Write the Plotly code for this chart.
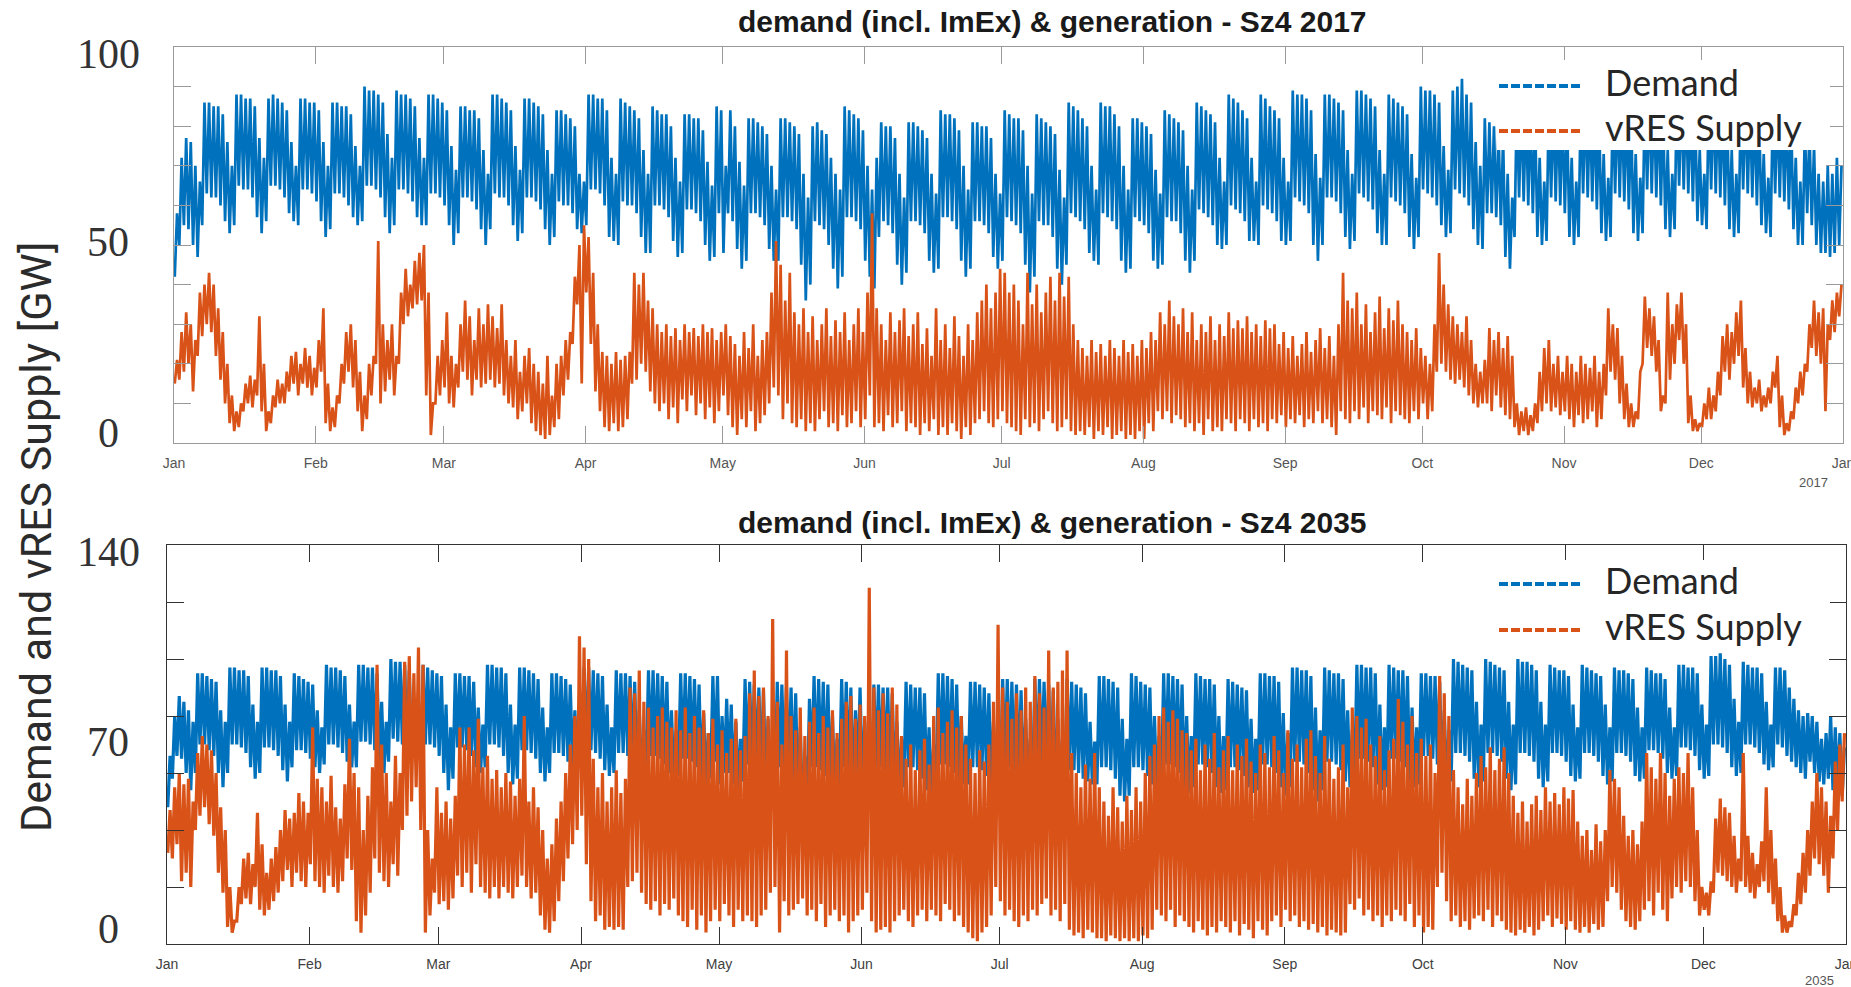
import pandas as pd
import plotly.graph_objects as go

W, H = 1851, 987

MONTHS = ["Jan", "Feb", "Mar", "Apr", "May", "Jun", "Jul", "Aug", "Sep", "Oct", "Nov", "Dec", "Jan"]
TITLE_2017 = "demand (incl. ImEx) & generation - Sz4 2017"
TITLE_2035 = "demand (incl. ImEx) & generation - Sz4 2035"
Y17_TICKS = list(range(0, 101, 10))
Y35_TICKS = list(range(0, 141, 20))
Y17_LABELS = ["100", "50", "0"]
Y35_LABELS = ["140", "70", "0"]
SERIES_NAMES = ["Demand", "vRES Supply"]

# ---- 2017: daily maxima / minima (GW) ----
D17_MAX = [
    58, 72, 77, 76, 70, 66,
    86, 86, 85, 85, 83, 76, 70,
    88, 88, 87, 87, 85, 77, 72,
    87, 88, 87, 86, 84, 76, 70,
    87, 87, 86, 86, 84, 76, 70,
    86, 86, 85, 85, 83, 75, 70,
    90, 89, 89, 88, 86, 78, 72,
    89, 88, 88, 87, 85, 77, 72,
    88, 88, 87, 86, 84, 75, 69,
    85, 85, 84, 84, 82, 74, 68,
    88, 88, 87, 86, 84, 75, 69,
    87, 87, 86, 85, 83, 74, 68,
    84, 84, 83, 82, 80, 68, 66,
    88, 88, 87, 87, 84, 72, 68,
    87, 86, 85, 84, 82, 74, 68,
    85, 84, 83, 83, 80, 72, 66,
    83, 83, 82, 82, 79, 71, 65,
    85, 84, 70, 84, 80, 71, 65,
    82, 82, 81, 80, 78, 70, 64,
    82, 82, 81, 80, 78, 68, 62,
    80, 81, 79, 78, 72, 68, 64,
    85, 84, 83, 82, 79, 70, 64,
    72, 81, 80, 80, 77, 68, 62,
    81, 81, 80, 79, 77, 68, 63,
    84, 83, 83, 82, 79, 70, 64,
    81, 81, 80, 80, 77, 68, 63,
    84, 83, 82, 82, 79, 70, 63,
    83, 82, 81, 80, 78, 69, 62,
    86, 85, 84, 82, 80, 70, 64,
    86, 85, 85, 83, 80, 70, 64,
    82, 82, 81, 80, 78, 69, 63,
    84, 83, 82, 81, 79, 70, 64,
    86, 85, 84, 83, 81, 72, 66,
    88, 87, 86, 84, 82, 72, 66,
    88, 87, 85, 84, 82, 72, 66,
    89, 88, 88, 87, 84, 73, 67,
    88, 88, 87, 86, 84, 74, 68,
    89, 89, 88, 87, 85, 74, 68,
    88, 87, 86, 85, 83, 73, 67,
    90, 89, 89, 88, 86, 75, 69,
    89, 90, 92, 88, 86, 76, 70,
    82, 81, 80, 79, 77, 68, 62,
    86, 86, 85, 84, 82, 72, 66,
    86, 86, 85, 84, 82, 72, 66,
    87, 87, 86, 85, 83, 73, 67,
    87, 87, 86, 85, 83, 73, 67,
    88, 88, 87, 86, 84, 74, 68,
    88, 88, 87, 86, 84, 74, 68,
    88, 88, 87, 86, 84, 74, 68,
    87, 87, 86, 85, 83, 73, 67,
    86, 86, 85, 84, 82, 72, 66,
    80, 79, 75, 68, 66, 70, 68,
    72, 70,
]
D17_MIN = [
    42, 50, 55, 54, 50, 47,
    55, 63, 62, 62, 60, 56, 53,
    55, 65, 64, 64, 62, 57, 53,
    56, 65, 65, 64, 62, 58, 56,
    55, 64, 64, 63, 61, 56, 52,
    54, 63, 63, 62, 60, 57, 55,
    56, 65, 65, 64, 62, 57, 53,
    55, 64, 64, 63, 61, 57, 55,
    55, 63, 63, 62, 60, 55, 50,
    53, 62, 62, 61, 59, 54, 50,
    54, 63, 62, 62, 60, 55, 51,
    53, 62, 62, 61, 59, 54, 50,
    52, 61, 60, 60, 58, 54, 53,
    55, 64, 64, 63, 60, 52, 51,
    50, 61, 60, 60, 58, 52, 48,
    48, 60, 60, 59, 57, 51, 47,
    48, 59, 59, 58, 56, 50, 46,
    47, 58, 48, 58, 56, 49, 44,
    46, 58, 58, 57, 55, 49, 46,
    46, 57, 57, 56, 54, 45, 36,
    40, 56, 55, 54, 50, 44, 39,
    42, 57, 57, 56, 54, 46, 42,
    39, 52, 56, 55, 53, 45, 40,
    43, 56, 56, 55, 53, 46, 43,
    44, 57, 57, 56, 54, 46, 42,
    44, 56, 56, 55, 53, 47, 44,
    46, 57, 56, 55, 53, 45, 38,
    42, 56, 55, 55, 52, 44, 40,
    45, 58, 57, 56, 54, 48, 46,
    45, 58, 57, 56, 54, 46, 43,
    44, 57, 56, 55, 53, 46, 44,
    45, 57, 56, 56, 53, 46, 43,
    46, 59, 58, 57, 55, 50, 49,
    50, 60, 59, 58, 56, 51, 51,
    50, 60, 59, 58, 56, 51, 50,
    51, 62, 61, 60, 58, 50, 46,
    50, 62, 62, 61, 58, 52, 49,
    51, 63, 62, 61, 59, 53, 50,
    50, 62, 61, 60, 58, 52, 49,
    52, 64, 63, 62, 60, 55, 52,
    53, 64, 63, 62, 60, 54, 50,
    49, 58, 58, 57, 55, 47, 44,
    52, 62, 61, 60, 58, 52, 50,
    51, 62, 61, 60, 58, 52, 50,
    52, 63, 62, 61, 59, 53, 51,
    52, 63, 62, 61, 59, 53, 51,
    53, 64, 63, 62, 60, 54, 52,
    54, 65, 64, 63, 61, 56, 55,
    54, 64, 63, 62, 60, 54, 52,
    53, 64, 63, 62, 60, 55, 53,
    52, 63, 62, 61, 59, 54, 50,
    50, 58, 55, 50, 48, 48, 47,
    48, 50,
]
S17_MAX = [
    21, 28, 33, 30, 26, 38, 40, 43, 40, 34,
    28, 20, 12, 8, 10, 15, 17, 16, 32, 20,
    8, 12, 16, 15, 18, 22, 23, 20, 24, 22,
    19, 26, 34, 15, 9, 12, 20, 28, 30, 26,
    18, 12, 20, 22, 51, 30, 26, 30, 22, 38,
    44, 40, 46, 48, 50, 38, 10, 22, 26, 33,
    22, 20, 30, 36, 32, 26, 34, 30, 35, 32,
    29, 35, 26, 22, 26, 18, 22, 24, 20, 18,
    15, 22, 12, 20, 22, 26, 28, 42, 50, 55,
    52, 43, 30, 23, 22, 20, 23, 21, 22, 23,
    43, 40, 43, 36, 34, 30, 28, 30, 27, 29,
    26, 30, 28, 29, 27, 30, 28, 29, 26, 28,
    30, 27, 25, 22, 28, 24, 30, 22, 26, 28,
    38, 51, 45, 36, 43, 33, 30, 34, 28, 32,
    26, 30, 34, 27, 31, 28, 33, 26, 30, 34,
    28, 38, 58, 34, 30, 26, 33, 28, 31, 34,
    27, 30, 33, 25, 29, 22, 34, 26, 30, 24,
    32, 27, 22, 30, 26, 33, 36, 40, 34, 38,
    44, 43, 38, 40, 36, 30, 43, 35, 40, 33,
    38, 42, 36, 43, 37, 42, 30, 26, 24, 22,
    26, 23, 25, 22, 26, 24, 22, 26, 23, 25,
    22, 26, 24, 28, 26, 33, 30, 36, 32, 30,
    34, 28, 33, 26, 30, 28, 32, 26, 30, 27,
    33, 29, 31, 29, 32, 28, 30, 27, 31, 29,
    30, 25, 28, 24, 27, 22, 25, 28, 23, 26,
    29, 24, 27, 22, 30, 43, 36, 34, 38, 30,
    35, 28, 33, 37, 29, 34, 31, 36, 30, 28,
    26, 29, 24, 22, 20, 30, 48, 40, 35, 32,
    30, 28, 32, 26, 20, 18, 21, 29, 26, 28,
    24, 27, 22, 10, 8, 9, 7, 10, 18, 24,
    26, 20, 22, 18, 22, 20, 18, 22, 20, 19,
    22, 18, 20, 34, 30, 29, 22, 15, 10, 8,
    18, 37, 34, 32, 26, 12, 38, 30, 35, 38,
    30, 12, 6, 5, 10, 14, 12, 18, 27, 30,
    28, 33, 36, 24, 18, 14, 16, 12, 14, 18,
    22, 12, 5, 8, 14, 18, 20, 30, 36, 33,
    34, 30, 36, 38, 40,
]
S17_MIN = [
    15, 16, 18, 20, 13, 22, 27, 30, 28, 22,
    16, 10, 5, 3, 4, 8, 10, 9, 12, 8,
    3, 5, 9, 10, 10, 13, 15, 12, 15, 14,
    12, 14, 18, 5, 3, 4, 10, 15, 18, 14,
    8, 3, 6, 12, 20, 10, 13, 16, 12, 20,
    30, 32, 34, 35, 36, 12, 2, 10, 12, 14,
    10, 9, 14, 18, 16, 12, 16, 14, 15, 16,
    14, 15, 12, 10, 9, 6, 8, 10, 5, 3,
    2, 1, 2, 4, 6, 12, 16, 25, 35, 15,
    38, 25, 13, 8, 4, 3, 5, 3, 4, 6,
    15, 16, 20, 18, 13, 10, 8, 10, 6, 9,
    5, 11, 8, 12, 7, 10, 6, 9, 5, 8,
    12, 7, 4, 2, 6, 4, 8, 3, 5, 7,
    10, 14, 12, 6, 10, 5, 4, 6, 3, 5,
    3, 6, 8, 4, 5, 3, 7, 4, 5, 8,
    4, 6, 12, 4, 5, 3, 7, 4, 5, 8,
    3, 5, 4, 2, 5, 3, 6, 2, 4, 2,
    5, 3, 1, 4, 2, 5, 6, 8, 5, 4,
    6, 8, 5, 4, 3, 2, 6, 4, 5, 3,
    6, 8, 5, 3, 4, 6, 3, 2, 3, 2,
    4, 1, 3, 2, 4, 1, 2, 3, 1, 2,
    1, 3, 1, 5, 3, 8, 6, 8, 5, 7,
    6, 4, 5, 3, 5, 2, 6, 3, 4, 3,
    6, 5, 3, 6, 5, 3, 6, 4, 5, 3,
    6, 5, 7, 4, 6, 5, 7, 4, 6, 5,
    8, 5, 6, 4, 2, 8, 6, 5, 8, 6,
    9, 5, 8, 7, 6, 9, 5, 8, 7, 6,
    5, 8, 6, 10, 6, 8, 18, 20, 18, 16,
    15, 16, 14, 12, 10, 9, 10, 10, 8, 12,
    9, 7, 6, 4, 2, 3, 2, 3, 5, 8,
    10, 8, 9, 7, 8, 6, 4, 7, 5, 6,
    8, 4, 6, 12, 18, 16, 10, 6, 4, 4,
    6, 20, 24, 22, 18, 8, 10, 16, 20, 26,
    20, 5, 3, 3, 4, 6, 6, 8, 12, 18,
    16, 20, 22, 14, 10, 9, 10, 8, 9, 10,
    14, 4, 2, 3, 6, 10, 12, 18, 24, 22,
    20, 8, 26, 28, 32,
]

# ---- 2035: daily maxima / minima (GW) ----
D35_MAX = [
    66, 80, 87, 85, 82, 78,
    95, 95, 94, 93, 92, 82, 78,
    97, 97, 96, 96, 94, 84, 78,
    97, 97, 96, 96, 94, 84, 78,
    95, 94, 93, 92, 91, 82, 76,
    98, 97, 97, 96, 94, 84, 78,
    98, 98, 97, 97, 95, 85, 78,
    100, 99, 99, 98, 96, 86, 80,
    98, 97, 96, 95, 94, 84, 76,
    95, 95, 94, 94, 92, 83, 77,
    98, 98, 97, 97, 95, 84, 77,
    97, 97, 96, 95, 93, 83, 76,
    95, 95, 94, 93, 91, 82, 76,
    97, 97, 96, 95, 94, 84, 76,
    96, 95, 95, 94, 92, 82, 75,
    96, 96, 95, 94, 92, 82, 75,
    95, 95, 94, 93, 91, 81, 74,
    94, 94, 80, 86, 84, 78, 72,
    93, 92, 91, 90, 89, 79, 72,
    92, 91, 90, 90, 88, 76, 66,
    86, 94, 93, 92, 91, 80, 72,
    93, 92, 90, 82, 90, 78, 72,
    91, 91, 90, 90, 88, 78, 72,
    92, 91, 90, 90, 88, 76, 70,
    95, 95, 94, 93, 91, 80, 73,
    92, 92, 91, 90, 88, 78, 72,
    93, 93, 92, 91, 89, 79, 72,
    93, 93, 92, 91, 89, 79, 72,
    93, 92, 91, 90, 88, 78, 71,
    94, 94, 93, 92, 90, 79, 72,
    95, 94, 92, 91, 90, 80, 73,
    95, 95, 94, 93, 91, 80, 73,
    95, 94, 93, 93, 91, 80, 73,
    93, 92, 91, 90, 89, 79, 72,
    95, 95, 94, 94, 92, 81, 74,
    97, 97, 96, 96, 94, 83, 75,
    97, 96, 95, 95, 93, 82, 75,
    98, 98, 97, 97, 95, 84, 76,
    98, 97, 96, 96, 94, 83, 76,
    95, 95, 94, 94, 92, 82, 75,
    100, 99, 98, 97, 96, 85, 77,
    100, 99, 98, 97, 96, 85, 77,
    100, 99, 99, 98, 96, 85, 77,
    98, 97, 96, 96, 94, 84, 76,
    98, 97, 96, 95, 94, 84, 76,
    97, 96, 96, 95, 93, 83, 76,
    97, 96, 95, 95, 93, 83, 76,
    98, 98, 97, 97, 95, 84, 77,
    101, 101, 102, 100, 98, 86, 78,
    99, 98, 97, 97, 95, 85, 77,
    97, 97, 96, 90, 86, 82, 80,
    81, 80, 78, 72, 74, 80, 76,
    74, 69,
]
D35_MIN = [
    48, 58, 66, 65, 60, 54,
    60, 70, 70, 68, 66, 60, 55,
    60, 70, 70, 69, 67, 62, 58,
    60, 69, 69, 68, 66, 61, 57,
    62, 68, 68, 67, 65, 62, 60,
    63, 70, 70, 69, 67, 64, 62,
    62, 71, 71, 70, 68, 63, 60,
    64, 72, 71, 70, 68, 66, 65,
    62, 70, 70, 69, 66, 60, 54,
    58, 69, 69, 68, 66, 62, 60,
    62, 70, 70, 69, 66, 60, 56,
    58, 68, 68, 67, 65, 60, 57,
    60, 67, 67, 66, 64, 62, 60,
    62, 68, 68, 67, 65, 61, 59,
    60, 67, 67, 66, 64, 60, 58,
    60, 66, 66, 65, 63, 60, 58,
    59, 65, 65, 64, 62, 58, 56,
    58, 64, 56, 60, 60, 56, 54,
    57, 63, 63, 62, 60, 56, 54,
    55, 62, 62, 61, 58, 50, 46,
    48, 62, 62, 61, 59, 56, 55,
    56, 62, 60, 52, 60, 55, 54,
    55, 62, 62, 61, 59, 55, 53,
    55, 62, 62, 61, 58, 54, 52,
    55, 63, 63, 62, 60, 57, 56,
    56, 62, 62, 61, 59, 56, 55,
    56, 62, 62, 61, 59, 58, 57,
    57, 62, 62, 61, 59, 56, 55,
    55, 61, 61, 60, 58, 57, 56,
    56, 62, 62, 61, 58, 52, 50,
    52, 62, 62, 61, 59, 56, 54,
    55, 63, 63, 62, 60, 55, 53,
    55, 63, 63, 62, 60, 55, 53,
    54, 62, 62, 61, 59, 55, 53,
    54, 63, 63, 62, 60, 55, 52,
    55, 64, 64, 63, 60, 54, 50,
    54, 64, 64, 63, 61, 57, 55,
    56, 65, 65, 64, 62, 56, 54,
    55, 65, 65, 64, 62, 57, 55,
    56, 66, 66, 65, 63, 58, 55,
    57, 67, 67, 66, 64, 58, 55,
    57, 67, 67, 66, 64, 58, 54,
    56, 67, 67, 66, 64, 58, 55,
    57, 67, 67, 66, 64, 59, 57,
    58, 67, 67, 66, 64, 59, 56,
    57, 67, 67, 66, 64, 59, 57,
    58, 68, 68, 67, 65, 60, 58,
    59, 69, 69, 68, 66, 61, 58,
    59, 70, 70, 69, 67, 62, 59,
    60, 70, 70, 69, 67, 63, 61,
    62, 70, 69, 66, 64, 62, 60,
    58, 64, 60, 57, 56, 58, 54,
    55, 52,
]
S35_MAX = [
    47, 55, 60, 56, 58, 50, 67, 73, 70, 68,
    60, 48, 40, 20, 8, 20, 30, 32, 28, 46,
    35, 25, 30, 34, 40, 47, 44, 46, 53, 50,
    46, 76, 58, 55, 50, 59, 48, 44, 56, 72,
    60, 55, 40, 52, 62, 98, 70, 60, 50, 66,
    60, 99, 101, 95, 104, 98, 40, 30, 55, 46,
    50, 44, 52, 76, 70, 76, 68, 79, 62, 66,
    58, 61, 55, 60, 57, 52, 58, 80, 50, 55,
    48, 40, 30, 35, 44, 50, 60, 70, 80, 108,
    104, 100, 65, 55, 60, 50, 55, 61, 53, 58,
    90, 88, 96, 85, 83, 76, 80, 83, 78, 76,
    82, 75, 83, 74, 80, 76, 82, 74, 79, 70,
    75, 67, 72, 79, 68, 73, 88, 96, 87, 90,
    80, 114, 85, 70, 103, 80, 75, 83, 73, 78,
    83, 74, 80, 76, 82, 74, 79, 85, 87, 79,
    84, 80, 125, 90, 82, 88, 81, 90, 84, 73,
    65, 70, 61, 68, 72, 63, 80, 83, 74, 78,
    82, 76, 80, 70, 65, 60, 68, 64, 70, 85,
    112, 90, 85, 79, 88, 82, 90, 85, 94, 88,
    83, 103, 90, 92, 96, 103, 67, 60, 55, 63,
    58, 67, 55, 50, 45, 55, 48, 43, 52, 47,
    55, 50, 60, 66, 70, 80, 83, 78, 82, 79,
    75, 74, 68, 72, 61, 70, 65, 74, 62, 68,
    73, 61, 70, 66, 72, 64, 60, 70, 67, 62,
    73, 68, 60, 75, 65, 70, 62, 72, 75, 66,
    60, 73, 65, 58, 62, 70, 55, 83, 80, 76,
    79, 70, 66, 73, 61, 68, 72, 86, 78, 70,
    80, 67, 72, 66, 70, 60, 94, 88, 80, 61,
    55, 49, 58, 52, 60, 66, 62, 69, 61, 65,
    69, 60, 52, 46, 50, 43, 49, 52, 47, 55,
    50, 53, 49, 55, 51, 54, 43, 38, 40, 33,
    42, 36, 40, 61, 58, 55, 45, 38, 40, 35,
    43, 67, 62, 58, 67, 60, 52, 58, 62, 60,
    67, 55, 40, 20, 18, 22, 44, 51, 48, 46,
    38, 30, 67, 38, 32, 28, 36, 55, 40, 30,
    20, 10, 8, 14, 25, 32, 40, 50, 60, 55,
    50, 45, 64, 70, 74,
]
S35_MIN = [
    32, 30, 35, 22, 25, 20, 40, 45, 48, 42,
    38, 25, 18, 6, 4, 8, 14, 16, 14, 20,
    12, 10, 12, 15, 18, 22, 26, 20, 25, 22,
    20, 28, 22, 20, 18, 24, 20, 18, 22, 30,
    26, 8, 4, 10, 18, 30, 25, 22, 20, 28,
    24, 40, 45, 50, 55, 40, 4, 10, 18, 14,
    15, 12, 16, 24, 20, 25, 18, 28, 20, 18,
    16, 20, 16, 20, 18, 16, 20, 24, 20, 16,
    18, 10, 5, 4, 8, 15, 22, 30, 35, 40,
    45, 28, 15, 8, 10, 5, 6, 5, 6, 5,
    20, 22, 25, 18, 14, 12, 15, 10, 14, 12,
    16, 10, 8, 6, 12, 5, 10, 4, 8, 12,
    8, 14, 10, 6, 12, 8, 10, 8, 6, 10,
    12, 18, 20, 4, 15, 10, 12, 14, 16, 10,
    12, 8, 14, 6, 10, 12, 8, 10, 4, 8,
    10, 12, 18, 8, 4, 5, 6, 4, 8, 10,
    12, 8, 6, 10, 12, 8, 12, 10, 8, 14,
    12, 8, 10, 6, 4, 2, 1, 4, 6, 10,
    20, 15, 10, 12, 8, 6, 10, 8, 12, 10,
    14, 16, 10, 12, 8, 14, 5, 3, 4, 2,
    5, 4, 2, 2, 1, 3, 2, 1, 2, 1,
    2, 1, 3, 2, 5, 12, 10, 8, 12, 6,
    10, 8, 6, 4, 8, 5, 3, 6, 4, 8,
    6, 4, 8, 3, 7, 5, 2, 8, 5, 3,
    8, 10, 6, 12, 8, 10, 6, 8, 5, 7,
    4, 6, 3, 5, 4, 3, 4, 14, 12, 16,
    10, 12, 8, 10, 6, 10, 8, 12, 10, 8,
    14, 6, 10, 4, 6, 5, 20, 25, 15, 8,
    10, 6, 8, 5, 9, 10, 8, 12, 6, 10,
    8, 5, 4, 3, 5, 4, 6, 3, 5, 8,
    10, 6, 9, 7, 5, 8, 5, 4, 6, 4,
    7, 5, 6, 15, 20, 18, 12, 8, 6, 5,
    8, 12, 15, 10, 18, 12, 8, 16, 20, 18,
    22, 20, 15, 10, 12, 10, 18, 25, 24, 22,
    20, 18, 22, 20, 18, 16, 20, 22, 18, 14,
    8, 4, 4, 6, 10, 14, 18, 24, 30, 28,
    24, 18, 30, 40, 50,
]

for name, arr in [("D17_MAX", D17_MAX), ("D17_MIN", D17_MIN), ("S17_MAX", S17_MAX), ("S17_MIN", S17_MIN),
                  ("D35_MAX", D35_MAX), ("D35_MIN", D35_MIN), ("S35_MAX", S35_MAX), ("S35_MIN", S35_MIN)]:
    assert len(arr) == 365, (name, len(arr))

BLUE = "#0072BD"
ORANGE = "#D95319"


def px(x):
    return x / W


def py(y):
    return 1 - y / H


def daily_series(year, mx, mn):
    days = pd.date_range(f"{year}-01-01", periods=len(mx), freq="D")
    xs, ys = [], []
    for d, lo, hi in zip(days, mn, mx):
        xs += [d + pd.Timedelta(hours=4), d + pd.Timedelta(hours=16)]
        ys += [lo, hi]
    return xs, ys


fig = go.Figure()
for year, dmx, dmn, smx, smn, xa, ya, lw in [
    (2017, D17_MAX, D17_MIN, S17_MAX, S17_MIN, "x", "y", 2.7),
    (2035, D35_MAX, D35_MIN, S35_MAX, S35_MIN, "x2", "y2", 3.2),
]:
    x, y = daily_series(year, dmx, dmn)
    fig.add_trace(go.Scatter(x=x, y=y, mode="lines", name=SERIES_NAMES[0], xaxis=xa, yaxis=ya,
                             line=dict(color=BLUE, width=lw), showlegend=False))
    x, y = daily_series(year, smx, smn)
    fig.add_trace(go.Scatter(x=x, y=y, mode="lines", name=SERIES_NAMES[1], xaxis=xa, yaxis=ya,
                             line=dict(color=ORANGE, width=lw), showlegend=False))


def xaxis_cfg(year, x0, x1, color, fcolor):
    ticks = pd.date_range(f"{year}-01-01", periods=13, freq="MS")
    return dict(domain=[px(x0), px(x1)], type="date",
                range=[f"{year}-01-01", f"{year + 1}-01-01"],
                tickvals=list(ticks), ticktext=MONTHS,
                ticks="inside", ticklen=17, tickwidth=1, tickcolor=color,
                showline=True, linecolor=color, linewidth=1, mirror="allticks",
                showgrid=False, zeroline=False, automargin=False,
                ticklabelstandoff=7, ticklabeloverflow="allow",
                tickfont=dict(family="Liberation Sans, Arial", size=14, color=fcolor))


def yaxis_cfg(y_top, y_bot, rng, tickvals, color):
    return dict(domain=[py(y_bot), py(y_top)], range=rng, tickvals=tickvals,
                ticks="inside", ticklen=17, tickwidth=1, tickcolor=color,
                showticklabels=False, showline=True, linecolor=color, linewidth=1,
                mirror="allticks", showgrid=False, zeroline=False, automargin=False)


UP_COL = "#9a9a9a"
LO_COL = "#333333"

annotations = []
shapes = []

# titles
for text, yc in [(TITLE_2017, 21), (TITLE_2035, 522)]:
    annotations.append(dict(text=f"<b>{text}</b>", x=px(1052), y=py(yc), xref="paper", yref="paper",
                            xanchor="center", yanchor="middle", showarrow=False,
                            font=dict(family="Liberation Sans, Arial", size=30, color="#1a1a1a")))

# overlay y labels
for labels, ys in [(Y17_LABELS, [54, 242, 433]), (Y35_LABELS, [552, 742, 929])]:
    for lab, yc in zip(labels, ys):
        annotations.append(dict(text=lab, x=px(108), y=py(yc), xref="paper", yref="paper",
                                xanchor="center", yanchor="middle", showarrow=False,
                                font=dict(family="Liberation Serif, serif", size=42, color="#333333")))

# y axis title
annotations.append(dict(text="Demand and vRES Supply [GW]", x=px(36), y=py(537), xref="paper", yref="paper",
                        xanchor="center", yanchor="middle", showarrow=False, textangle=-90,
                        font=dict(family="Roboto, sans-serif", size=43, color="#2b2b2b")))

# year labels
annotations.append(dict(text="2017", x=px(1830), y=py(482), xref="paper", yref="paper",
                        xanchor="right", yanchor="middle", showarrow=False,
                        font=dict(family="Liberation Sans, Arial", size=13, color="#555555")))
annotations.append(dict(text="2035", x=px(1836), y=py(980), xref="paper", yref="paper",
                        xanchor="right", yanchor="middle", showarrow=False,
                        font=dict(family="Liberation Sans, Arial", size=13, color="#555555")))

# legends (manual, as drawn in the source figure)
for box_top, box_bot, y_dem, y_sup in [(60, 150, 82, 127), (560, 650, 580, 626)]:
    shapes.append(dict(type="rect", xref="paper", yref="paper", x0=px(1497), x1=px(1830),
                       y0=py(box_bot), y1=py(box_top), fillcolor="white", line=dict(width=0), layer="above"))
    for yy, col in [(y_dem + 4, BLUE), (y_sup + 4, ORANGE)]:
        shapes.append(dict(type="line", xref="paper", yref="paper", x0=px(1499), x1=px(1582),
                           y0=py(yy), y1=py(yy), line=dict(color=col, width=4, dash="9px,3px"), layer="above"))
    for yy, name in [(y_dem, SERIES_NAMES[0]), (y_sup, SERIES_NAMES[1])]:
        annotations.append(dict(text=name, x=px(1603), y=py(yy), xref="paper", yref="paper",
                                xanchor="left", yanchor="middle", showarrow=False,
                                font=dict(family="Lato, sans-serif", size=36, color="#262626")))

fig.update_layout(
    width=W, height=H, template="none",
    margin=dict(l=0, r=0, t=0, b=0, pad=0),
    paper_bgcolor="white", plot_bgcolor="white",
    xaxis=dict(anchor="y", **xaxis_cfg(2017, 174, 1843, UP_COL, "#555555")),
    yaxis=dict(anchor="x", **yaxis_cfg(47, 443, [0, 100], Y17_TICKS, UP_COL)),
    xaxis2=dict(anchor="y2", **xaxis_cfg(2035, 167, 1846, LO_COL, "#404040")),
    yaxis2=dict(anchor="x2", **yaxis_cfg(545, 944, [0, 140], Y35_TICKS, LO_COL)),
    annotations=annotations, shapes=shapes,
    showlegend=False,
)

fig.write_html("out.html")
